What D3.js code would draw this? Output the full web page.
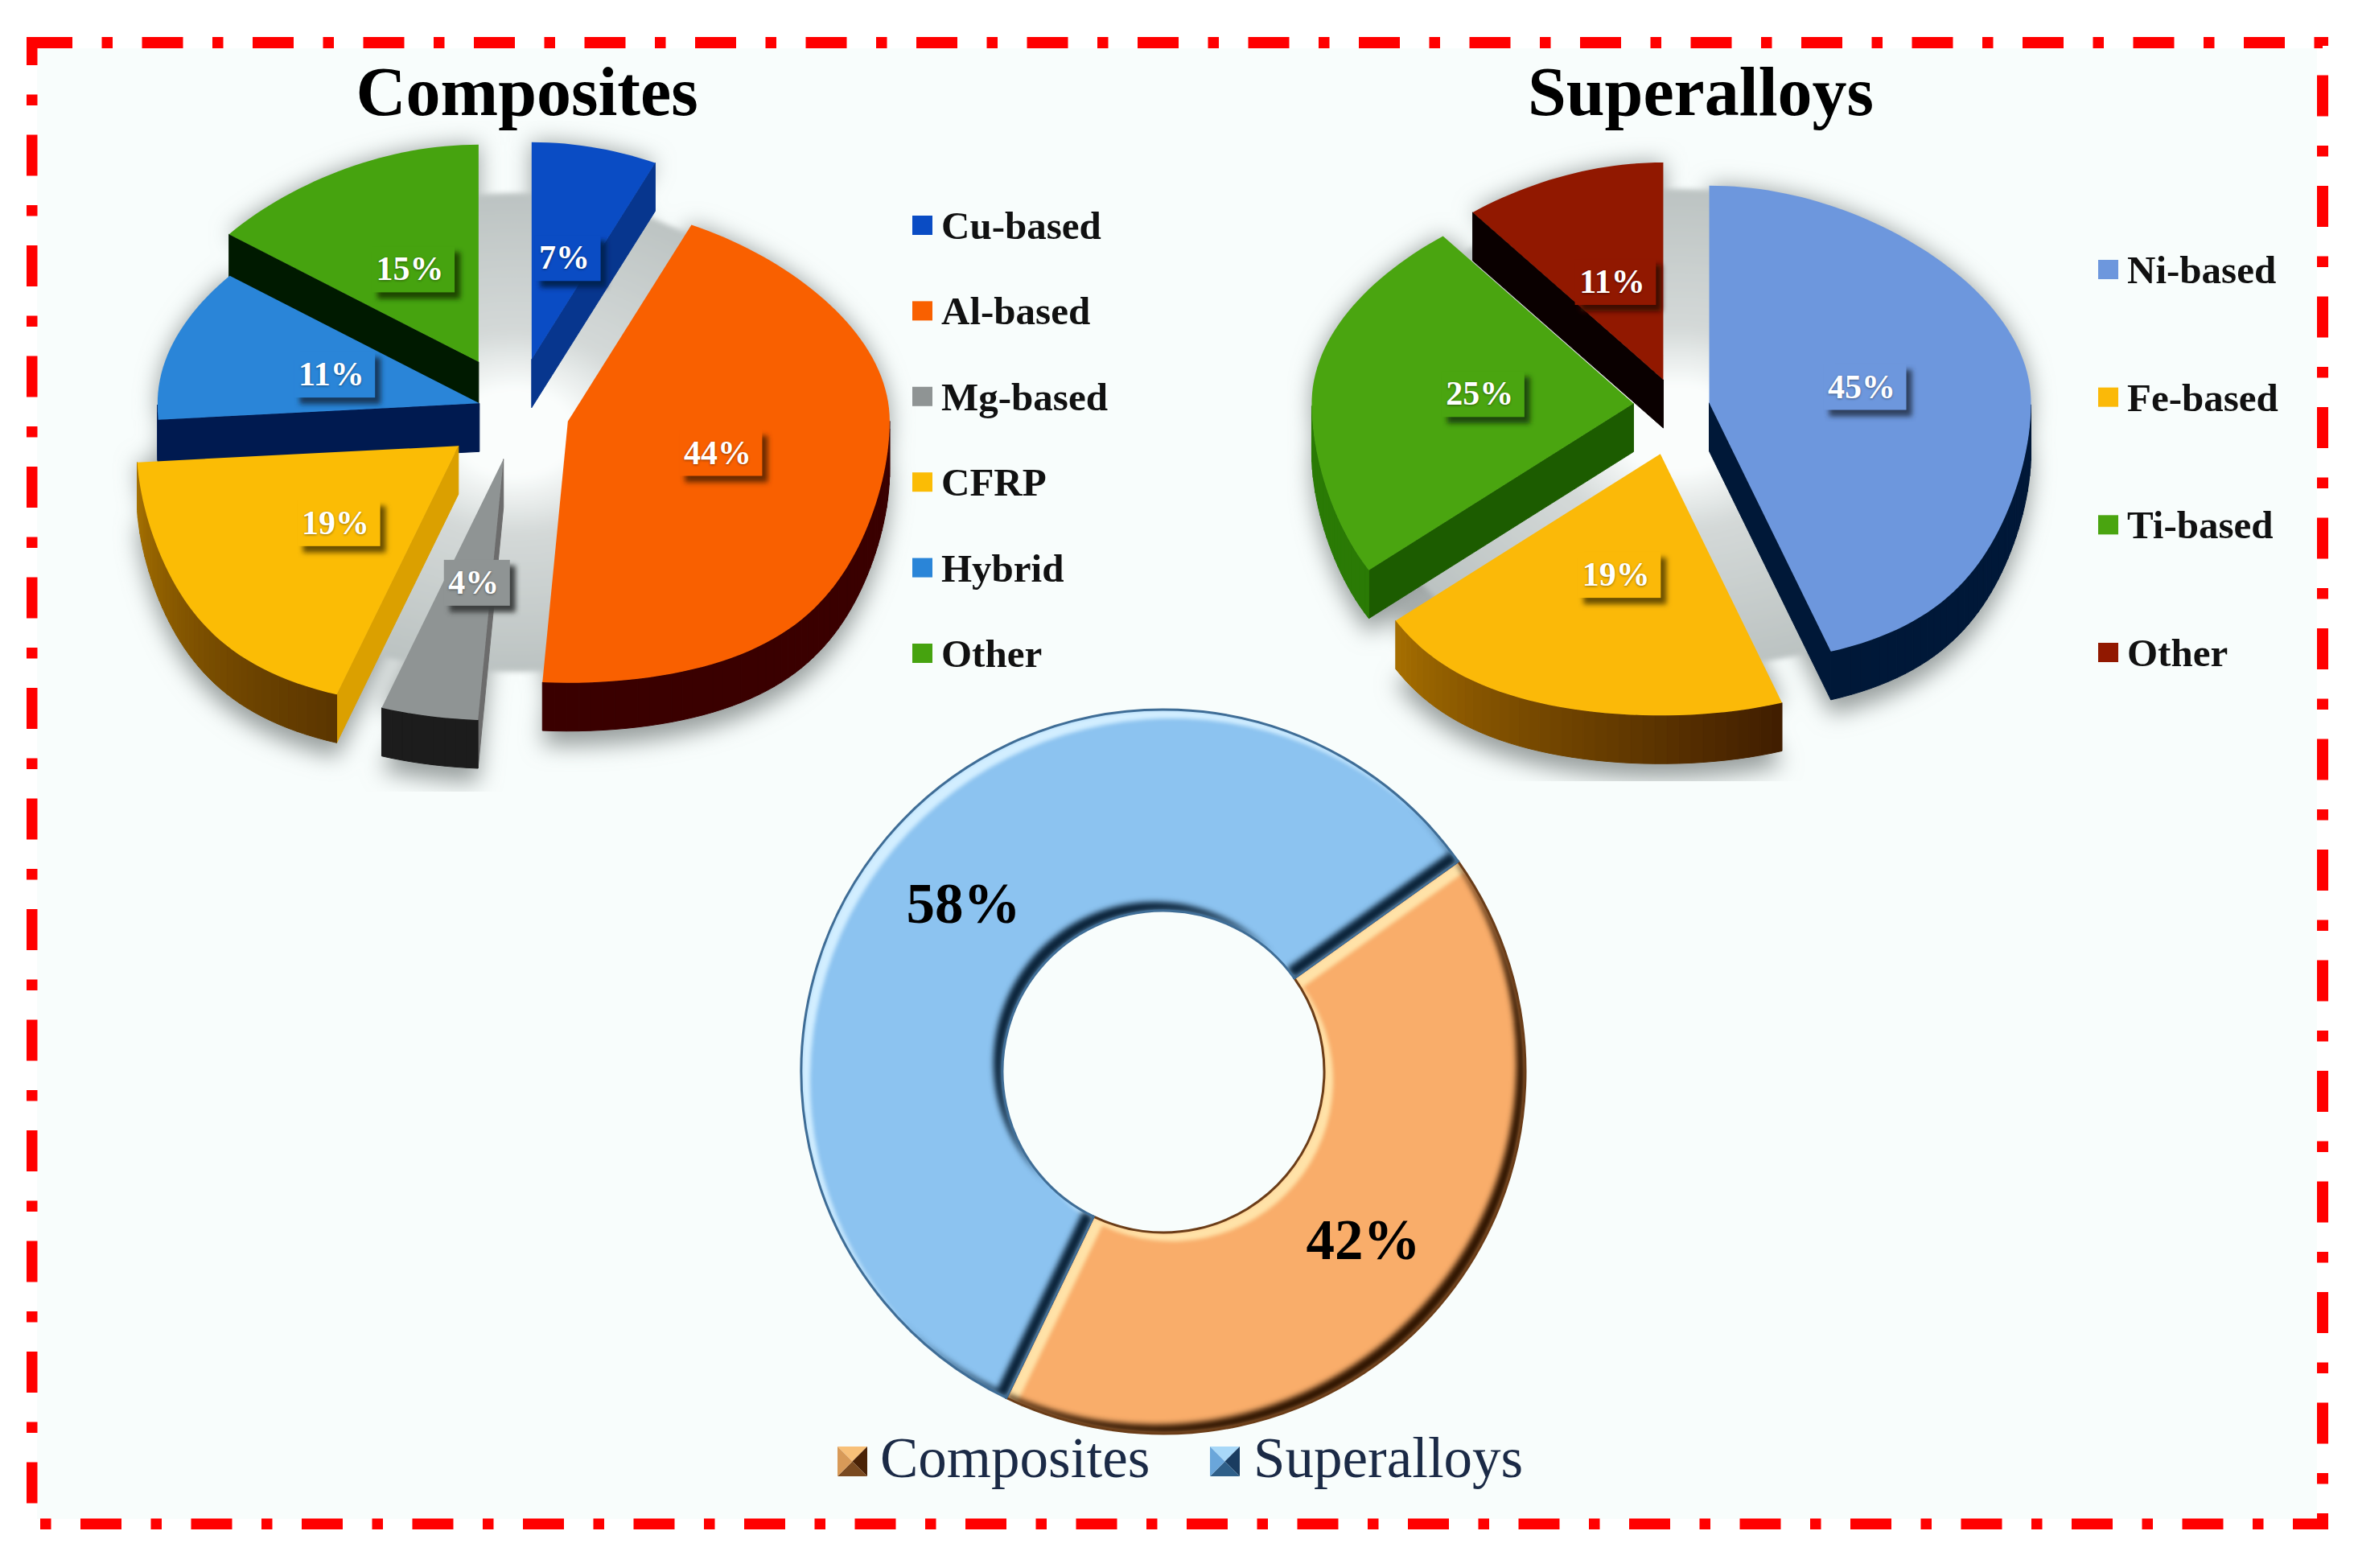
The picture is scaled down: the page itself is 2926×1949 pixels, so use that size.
<!DOCTYPE html>
<html>
<head>
<meta charset="utf-8">
<script src="https://cdn.jsdelivr.net/npm/d3@7"></script>
<style>
  html, body { margin: 0; padding: 0; background: #fff; }
  text { font-family: "Liberation Serif", "Times New Roman", serif; }
</style>
</head>
<body>
<div id="chart"></div>
<script>
// chart values
var compositeNames = ["Cu-based", "Al-based", "Mg-based", "CFRP", "Hybrid", "Other"];
var compositeValues = [7, 44, 4, 19, 11, 15];
var superalloyNames = ["Ni-based", "Fe-based", "Ti-based", "Other"];
var superalloyValues = [45, 19, 25, 11];
var shareNames = ["Composites", "Superalloys"];
var shareValues = [42, 58];

// colours of the slices
var compositeTop = ["#0a4cc4", "#f96000", "#8f9494", "#fbbc05", "#2a85d8", "#46a30f"];
var compositeSide = ["#07368e", "#3a0000", "#6c6c6c", "#dba000", "#001a50", "#001a00"];
var compositeRimFrom = ["#07368e", "#3a0000", "#1c1c1c", "#a87200", "#001a50", "#001a00"];
var compositeRimTo = ["#07368e", "#3a0000", "#1c1c1c", "#5a3500", "#001a50", "#001a00"];
var superalloyTop = ["#6d97dd", "#fbb908", "#4aa510", "#911800"];
var superalloySide = ["#001838", "#a87000", "#1c5c00", "#0a0000"];
var superalloyRimFrom = ["#001838", "#a87000", "#2a7a05", "#0a0000"];
var superalloyRimTo = ["#001838", "#3e1c00", "#2a7a05", "#0a0000"];

// how far each slice is pulled out of its pie
var compositeExplode = [0.24, 0.17, 0.19, 0.222, 0.115, 0.25];
var superalloyExplode = [0.1, 0.19, 0.137, 0.13];

var svgWidth = 2926;
var svgHeight = 1949;
var pieRadiusX = 400;
var pieDepth = 60;

var svg = d3.select("#chart")
  .append("svg")
  .attr("width", svgWidth)
  .attr("height", svgHeight)
  .style("display", "block");

var defs = svg.append("defs");

// background panel
svg.append("rect")
  .attr("x", 46)
  .attr("y", 60)
  .attr("width", 2834)
  .attr("height", 1828)
  .attr("fill", "#f8fdfc");

// the tilt of the 3D pies: the near half is drawn taller and wider than the far half
var yTilt = d3.scaleLinear().domain([-1, 0, 1]).range([325, 0, -270]);

function project(angle, r) {
  var u = r * Math.cos(angle);
  var v = r * Math.sin(angle);
  var stretch = u > 0 ? 1 - 0.12 * u * u : 1 + 0.26 * Math.pow(-u, 3);
  return [pieRadiusX * v * stretch, yTilt(u)];
}

var polygon = d3.line().curve(d3.curveLinearClosed);

function blurFilter(id, size) {
  defs.append("filter")
    .attr("id", id)
    .attr("x", "-30%").attr("y", "-30%")
    .attr("width", "160%").attr("height", "160%")
    .append("feGaussianBlur")
    .attr("stdDeviation", size);
}
blurFilter("shadowBlur", 14);
blurFilter("discBlur", 3);
blurFilter("boxBlur", 3);
blurFilter("textBlur", 1.5);

var discFill = defs.append("radialGradient").attr("id", "discFill");
discFill.append("stop").attr("offset", "0.18").attr("stop-color", "#fafdfc");
discFill.append("stop").attr("offset", "0.42").attr("stop-color", "#d4d9d8");
discFill.append("stop").attr("offset", "1").attr("stop-color", "#bcc3c2");

function drawPie(names, values, tops, sides, rimFrom, rimTo, explode, cx, cy, clipBox, clipId) {
  var pie = d3.pie().sort(null).value(d => d);
  var slices = pie(values).map(function(d, i) {
    var mid = (d.startAngle + d.endAngle) / 2;
    var off = project(mid, explode[i]);
    var apex = [cx + off[0], cy + off[1]];
    var rim = d3.range(0, 1.0001, 1 / Math.ceil((d.endAngle - d.startAngle) / 0.03)).map(function(t) {
      var a = d.startAngle + t * (d.endAngle - d.startAngle);
      var p = project(a, 1);
      return [apex[0] + p[0], apex[1] + p[1]];
    });
    return { i: i, value: d.value, mid: mid, apex: apex, rim: rim };
  });

  defs.append("clipPath").attr("id", clipId)
    .append("rect")
    .attr("x", clipBox[0]).attr("y", clipBox[1])
    .attr("width", clipBox[2]).attr("height", clipBox[3]);

  var shadow = svg.append("g").attr("clip-path", "url(#" + clipId + ")");

  // soft shadow of the whole pie
  var soft = shadow.append("g").attr("filter", "url(#shadowBlur)");
  [0, pieDepth + 18].forEach(function(drop) {
    soft.append("g")
      .attr("transform", "translate(0," + drop + ")")
      .selectAll("path")
      .data(slices)
      .enter()
      .append("path")
      .attr("d", d => polygon([d.apex].concat(d.rim)))
      .attr("fill", "#989f9e");
  });

  // the grey disc that shows through the gaps between slices
  var disc = d3.range(0, Math.PI * 2, 0.03).map(function(a) {
    var p = project(a, 1);
    return [cx + p[0], cy + p[1]];
  });
  shadow.append("path")
    .attr("d", polygon(disc))
    .attr("fill", "url(#discFill)")
    .attr("filter", "url(#discBlur)");

  // far slices first
  var order = slices.slice().sort((a, b) => Math.cos(b.mid) - Math.cos(a.mid));

  order.forEach(function(s) {
    var g = svg.append("g");
    var pts = [s.apex].concat(s.rim);
    pts.forEach(function(p, k) {
      var q = pts[(k + 1) % pts.length];
      // seen from above only the edges running leftwards show a wall
      if (q[0] >= p[0]) return;
      var isRim = k > 0 && k < pts.length - 1;
      var t = isRim ? k / (pts.length - 1) : 0;
      var colour = isRim ? d3.interpolateRgb(rimTo[s.i], rimFrom[s.i])(t) : sides[s.i];
      g.append("path")
        .attr("d", polygon([p, q, [q[0], q[1] + pieDepth], [p[0], p[1] + pieDepth]]))
        .attr("fill", colour)
        .attr("stroke", colour)
        .attr("stroke-width", 1);
    });
    g.append("path")
      .attr("d", polygon(pts))
      .attr("fill", tops[s.i]);
  });

  // percent labels on small boxes
  slices.forEach(function(s) {
    var p = project(s.mid, 0.48);
    var x = s.apex[0] + p[0];
    var y = s.apex[1] + p[1];
    var g = svg.append("g").attr("transform", `translate(${x}, ${y})`);
    var boxShadow = g.append("rect");
    var box = g.append("rect");
    g.append("text")
      .attr("text-anchor", "middle")
      .attr("y", 15)
      .attr("font-size", "42px")
      .attr("font-weight", "bold")
      .attr("fill", d3.color(tops[s.i]).darker(1.6))
      .attr("filter", "url(#textBlur)")
      .text(s.value + "%");
    var label = g.append("text")
      .attr("text-anchor", "middle")
      .attr("y", 14)
      .attr("font-size", "42px")
      .attr("font-weight", "bold")
      .attr("fill", "#fff")
      .text(s.value + "%");
    var w = label.node().getComputedTextLength() + 19;
    box.attr("x", -w / 2 + 4).attr("y", -28).attr("width", w).attr("height", 57)
      .attr("fill", tops[s.i]);
    boxShadow.attr("x", -w / 2 + 11).attr("y", -21).attr("width", w).attr("height", 58)
      .attr("fill", d3.color(tops[s.i]).darker(2.4))
      .attr("filter", "url(#boxBlur)");
  });
}

drawPie(compositeNames, compositeValues, compositeTop, compositeSide, compositeRimFrom, compositeRimTo,
  compositeExplode, 640, 510, [120, 150, 1040, 834], "clipComposites");
drawPie(superalloyNames, superalloyValues, superalloyTop, superalloySide, superalloyRimFrom, superalloyRimTo,
  superalloyExplode, 2085, 505, [1600, 170, 1000, 801], "clipSuperalloys");

// titles
function title(text, x) {
  svg.append("text")
    .attr("x", x)
    .attr("y", 143)
    .attr("text-anchor", "middle")
    .attr("font-size", "86px")
    .attr("font-weight", "bold")
    .attr("fill", "#000")
    .text(text);
}
title("Composites", 655);
title("Superalloys", 2114);

// side legends
function sideLegend(names, colours, x, yFrom, yTo) {
  var y = d3.scalePoint().domain(names).range([yFrom, yTo]);
  var rows = svg.append("g").selectAll("g")
    .data(names)
    .enter()
    .append("g")
    .attr("transform", d => `translate(${x}, ${y(d)})`);
  rows.append("rect")
    .attr("x", 0)
    .attr("y", -12)
    .attr("width", 25)
    .attr("height", 24)
    .attr("fill", (d, i) => colours[i]);
  rows.append("text")
    .attr("x", 36)
    .attr("y", 17)
    .attr("font-size", "49px")
    .attr("font-weight", "bold")
    .attr("fill", "#111")
    .text(d => d);
}
sideLegend(compositeNames, compositeTop, 1134, 280, 812);
sideLegend(superalloyNames, superalloyTop, 2608, 335, 811);

// bevel for the doughnut: light on edges facing up-left, dark on edges facing down-right
function bevelFilter(id, light, dark) {
  var f = defs.append("filter")
    .attr("id", id)
    .attr("x", "-5%").attr("y", "-5%")
    .attr("width", "110%").attr("height", "110%")
    .attr("color-interpolation-filters", "sRGB");
  f.append("feOffset").attr("in", "SourceAlpha").attr("dx", 11).attr("dy", 11).attr("result", "off1");
  f.append("feComposite").attr("in", "SourceAlpha").attr("in2", "off1").attr("operator", "out").attr("result", "edge1");
  f.append("feGaussianBlur").attr("in", "edge1").attr("stdDeviation", 2.5).attr("result", "soft1");
  f.append("feFlood").attr("flood-color", light).attr("result", "lightFill");
  f.append("feComposite").attr("in", "lightFill").attr("in2", "soft1").attr("operator", "in").attr("result", "lit");
  f.append("feOffset").attr("in", "SourceAlpha").attr("dx", -11).attr("dy", -11).attr("result", "off2");
  f.append("feComposite").attr("in", "SourceAlpha").attr("in2", "off2").attr("operator", "out").attr("result", "edge2");
  f.append("feGaussianBlur").attr("in", "edge2").attr("stdDeviation", 3.5).attr("result", "soft2");
  f.append("feFlood").attr("flood-color", dark).attr("result", "darkFill");
  f.append("feComposite").attr("in", "darkFill").attr("in2", "soft2").attr("operator", "in").attr("result", "shade");
  var m = f.append("feMerge").attr("result", "all");
  m.append("feMergeNode").attr("in", "SourceGraphic");
  m.append("feMergeNode").attr("in", "lit");
  m.append("feMergeNode").attr("in", "shade");
  f.append("feComposite").attr("in", "all").attr("in2", "SourceAlpha").attr("operator", "in");
}
bevelFilter("bevelOrange", "#ffe2a8", "#2e1400");
bevelFilter("bevelBlue", "#d2eeff", "#0a2238");

var shareFill = ["#f9ad6a", "#8cc3f0"];
var shareEdge = ["#6b3d18", "#3f6d96"];
var shareBevel = ["bevelOrange", "bevelBlue"];

var donut = svg.append("g").attr("transform", "translate(1446, 1332)");
var sharePie = d3.pie()
  .sort(null)
  .startAngle(54.5 * Math.PI / 180)
  .endAngle(414.5 * Math.PI / 180);
var shareArc = d3.arc().innerRadius(200).outerRadius(450);

donut.selectAll("path")
  .data(sharePie(shareValues))
  .enter()
  .append("path")
  .attr("d", shareArc)
  .attr("fill", (d, i) => shareFill[i])
  .attr("filter", (d, i) => `url(#${shareBevel[i]})`);

donut.selectAll("path.edge")
  .data(sharePie(shareValues))
  .enter()
  .append("path")
  .attr("class", "edge")
  .attr("d", shareArc)
  .attr("fill", "none")
  .attr("stroke", (d, i) => shareEdge[i])
  .attr("stroke-width", 3);

donut.selectAll("text")
  .data(sharePie(shareValues))
  .enter()
  .append("text")
  .attr("x", d => shareArc.centroid(d)[0])
  .attr("y", d => shareArc.centroid(d)[1] + 24)
  .attr("text-anchor", "middle")
  .attr("font-size", "71px")
  .attr("font-weight", "bold")
  .attr("fill", "#000")
  .text(d => d.value + "%");

// doughnut legend with small pyramid markers
var markerFaces = [
  ["#f8c078", "#4a2206", "#7a4a20", "#d89a58"],
  ["#a8d8f8", "#1a3c60", "#2f5f88", "#6aa6da"]
];
var markerX = [1041, 1504];
var textX = [1094, 1558];
var markerSize = 37;

shareNames.forEach(function(name, i) {
  var g = svg.append("g").attr("transform", `translate(${markerX[i]}, 1798)`);
  var s = markerSize;
  var corners = [[0, 0], [s, 0], [s, s], [0, s]];
  corners.forEach(function(c, k) {
    g.append("path")
      .attr("d", polygon([c, corners[(k + 1) % 4], [s / 2, s / 2]]))
      .attr("fill", markerFaces[i][k]);
  });
  svg.append("text")
    .attr("x", textX[i])
    .attr("y", 1836)
    .attr("font-size", "71px")
    .attr("fill", "#1b2a46")
    .text(name);
});

// red dash-dot frame, one line per side so the dashes start where they do in the picture
var framePattern = "51 36.5 13.5 36.5";
var frameLines = [
  [39, 53, 2887, 53],
  [39.5, 30, 39.5, 1895],
  [2887, -44, 2887, 1894],
  [-37.5, 1894.5, 2894, 1894.5]
];
defs.append("clipPath").attr("id", "frameClip")
  .append("rect")
  .attr("x", 33).attr("y", 46)
  .attr("width", 2861).attr("height", 1855);
svg.append("g")
  .attr("clip-path", "url(#frameClip)")
  .selectAll("line")
  .data(frameLines)
  .enter()
  .append("line")
  .attr("x1", d => d[0])
  .attr("y1", d => d[1])
  .attr("x2", d => d[2])
  .attr("y2", d => d[3])
  .attr("stroke", "#ff0000")
  .attr("stroke-width", 14)
  .attr("stroke-dasharray", framePattern);
</script>
</body>
</html>
